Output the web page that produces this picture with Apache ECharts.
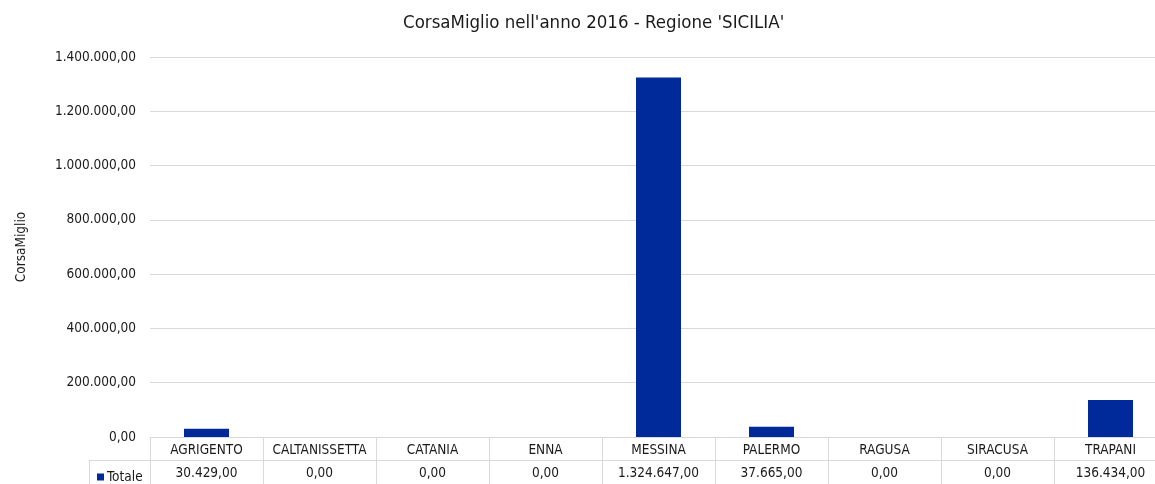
<!DOCTYPE html>
<html>
<head>
<meta charset="utf-8">
<script src="https://cdn.jsdelivr.net/npm/echarts@6/dist/echarts.min.js"></script>
<style>
  html, body { margin: 0; padding: 0; background: #fff; overflow: hidden; }
  #main { width: 1167px; height: 484px; }
</style>
</head>
<body>
<div id="main"></div>
<script>
var province = ['AGRIGENTO', 'CALTANISSETTA', 'CATANIA', 'ENNA', 'MESSINA', 'PALERMO', 'RAGUSA', 'SIRACUSA', 'TRAPANI'];
var totale = [30429, 0, 0, 0, 1324647, 37665, 0, 0, 136434];
var serieName = 'Totale';
var titolo = "CorsaMiglio nell'anno 2016 - Regione 'SICILIA'";

var FONT = '"DejaVu Sans Condensed", "Liberation Sans Narrow", sans-serif';
var FS = 13.5;

// numeri in formato italiano: 1.324.647,00
function fmt(v) {
  var parts = Number(v).toFixed(2).split('.');
  return parts[0].replace(/\B(?=(\d{3})+(?!\d))/g, '.') + ',' + parts[1];
}

var chartDom = document.getElementById('main');
var myChart = echarts.init(chartDom);
var option;

// il grafico originale e' tagliato a destra: il div e' piu' largo della finestra
option = {
  animation: false,
  textStyle: { fontFamily: FONT },
  title: {
    text: titolo,
    left: 398,
    top: 9,
    textStyle: { fontFamily: FONT, fontSize: 18.5, fontWeight: 'normal', color: '#1a1a1a' }
  },
  legend: {
    data: [serieName],
    left: 92,
    top: 465,
    icon: 'rect',
    itemWidth: 7,
    itemHeight: 7,
    itemGap: 4,
    textStyle: { fontFamily: FONT, fontSize: FS, color: '#1a1a1a', padding: [0, 0, 0, -2] }
  },
  grid: { left: 150, right: 0, top: 57, bottom: 47, containLabel: false },
  xAxis: [{
    type: 'category',
    data: province,
    position: 'bottom',
    axisLine: { show: true, lineStyle: { color: '#d9d9d9', width: 1 } },
    axisTick: { show: true, length: 23, lineStyle: { color: '#d9d9d9' } },
    axisLabel: { fontFamily: FONT, fontSize: FS, color: '#1a1a1a', margin: 6, interval: 0 }
  }, {
    type: 'category',
    data: totale.map(fmt),
    position: 'bottom',
    offset: 23,
    axisLine: { show: true, lineStyle: { color: '#d9d9d9', width: 1 } },
    axisTick: { show: true, length: 24, lineStyle: { color: '#d9d9d9' } },
    axisLabel: { fontFamily: FONT, fontSize: FS, color: '#1a1a1a', margin: 6, interval: 0 }
  }],
  yAxis: {
    type: 'value',
    min: 0,
    max: 1400000,
    interval: 200000,
    name: 'CorsaMiglio',
    nameLocation: 'middle',
    nameGap: 122,
    nameTextStyle: { fontFamily: FONT, fontSize: FS, color: '#1a1a1a' },
    axisLine: { show: false },
    axisTick: { show: false },
    splitLine: { lineStyle: { color: '#d9d9d9', width: 1 } },
    axisLabel: { fontFamily: FONT, fontSize: FS, color: '#1a1a1a', margin: 14, formatter: fmt }
  },
  series: [{
    name: serieName,
    type: 'bar',
    data: totale,
    barWidth: 45,
    itemStyle: { color: '#002999' }
  }],
  graphic: [
    { type: 'line', shape: { x1: 89, y1: 460.5, x2: 150, y2: 460.5 }, style: { stroke: '#d9d9d9', lineWidth: 1 } },
    { type: 'line', shape: { x1: 89.5, y1: 460, x2: 89.5, y2: 484 }, style: { stroke: '#d9d9d9', lineWidth: 1 } }
  ]
};

option && myChart.setOption(option);
</script>
</body>
</html>
